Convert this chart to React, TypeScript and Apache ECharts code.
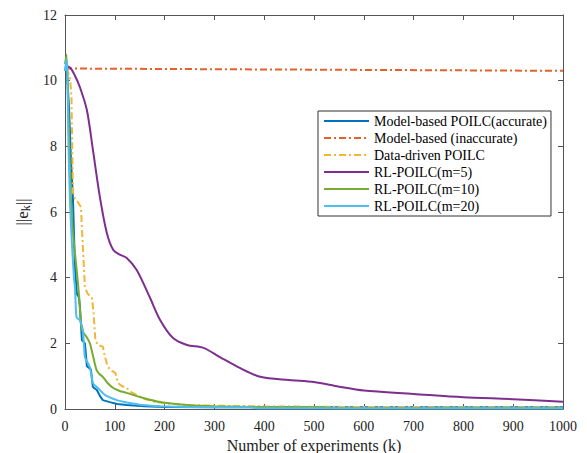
import React, { useEffect, useRef } from "react";
import * as echarts from "echarts";

const seriesNames = [
  "Model-based POILC(accurate)",
  "Model-based (inaccurate)",
  "Data-driven POILC",
  "RL-POILC(m=5)",
  "RL-POILC(m=10)",
  "RL-POILC(m=20)",
];

const xTicks = [0, 100, 200, 300, 400, 500, 600, 700, 800, 900, 1000];
const yTicks = [0, 2, 4, 6, 8, 10, 12];

const accurateK = [0, 3, 8, 12, 16, 20, 24, 28, 30, 34, 40, 44, 52, 56, 64, 70, 76, 90, 105, 124, 160, 200, 300, 500, 1000];
const accurateE = [10.3, 10.5, 9.2, 7.6, 6.4, 4.3, 3.5, 3.4, 3.1, 2.1, 2.0, 1.3, 1.2, 0.67, 0.58, 0.4, 0.27, 0.21, 0.15, 0.12, 0.08, 0.06, 0.05, 0.05, 0.05];

const inaccurateK = [0, 1000];
const inaccurateE = [10.37, 10.3];

const dataDrivenK = [0, 5, 10, 13, 16, 20, 26, 32, 35, 40, 46, 54, 57, 61, 66, 76, 80, 86, 95, 101, 106, 114, 124, 132, 144, 160, 180, 210, 250, 300, 400, 600, 1000];
const dataDrivenE = [10.35, 10.3, 10.1, 9.5, 6.6, 6.4, 6.3, 6.15, 5.2, 3.7, 3.5, 3.4, 3.0, 2.1, 1.95, 1.9, 1.6, 1.28, 1.15, 1.1, 0.8, 0.7, 0.64, 0.52, 0.43, 0.3, 0.22, 0.16, 0.12, 0.1, 0.08, 0.06, 0.05];

const rl5K = [0, 10, 20, 30, 44, 56, 70, 84, 97, 110, 124, 144, 170, 191, 217, 245, 278, 311, 351, 392, 450, 500, 550, 600, 700, 800, 900, 1000];
const rl5E = [10.45, 10.4, 10.15, 9.8, 9.1, 7.9, 6.46, 5.36, 4.84, 4.7, 4.6, 4.23, 3.41, 2.71, 2.16, 1.95, 1.86, 1.58, 1.25, 0.98, 0.88, 0.82, 0.68, 0.56, 0.46, 0.36, 0.3, 0.22];

const rl10K = [0, 3, 6, 10, 13, 17, 23, 28, 33, 38, 43, 50, 55, 63, 70, 76, 85, 97, 110, 124, 150, 191, 245, 300, 400, 520, 540, 1000];
const rl10E = [10.5, 10.8, 9.4, 7.2, 6.0, 5.2, 4.3, 3.5, 2.45, 2.3, 2.2, 2.0, 1.7, 1.2, 1.05, 0.98, 0.8, 0.64, 0.55, 0.49, 0.37, 0.21, 0.12, 0.08, 0.06, 0.05, 0.02, 0.02];

const rl20K = [0, 3, 5, 7, 10, 14, 18, 20, 23, 30, 36, 40, 50, 56, 66, 80, 104, 124, 157, 191, 250, 370, 390, 1000];
const rl20E = [10.3, 10.65, 10.2, 8.0, 6.3, 5.0, 4.0, 3.7, 2.8, 2.7, 2.4, 1.58, 1.28, 0.79, 0.64, 0.43, 0.27, 0.2, 0.12, 0.08, 0.06, 0.05, 0.02, 0.02];

const colors = ["#0072BD", "#E4622A", "#F2B637", "#7E2F8E", "#77AC30", "#4DBEEE"];

const pairs = (k: number[], v: number[]) => k.map((x, i) => [x, v[i]]);

const FONT = "'Liberation Serif', 'Times New Roman', serif";

export default function App() {
  const ref = useRef<HTMLDivElement>(null);
  useEffect(() => {
    if (!ref.current) return;
    const chart = echarts.init(ref.current, undefined, { renderer: "svg" });
    const axisColor = "#555";
    const data = [
      pairs(accurateK, accurateE),
      pairs(inaccurateK, inaccurateE),
      pairs(dataDrivenK, dataDrivenE),
      pairs(rl5K, rl5E),
      pairs(rl10K, rl10E),
      pairs(rl20K, rl20E),
    ];
    const lineTypes: any[] = ["solid", [7, 3, 2, 3], [7, 3, 2, 3], "solid", "solid", "solid"];
    const smooths: any[] = [false, false, false, 0.3, 0.2, 0.15];
    chart.setOption({
      animation: false,
      backgroundColor: "#fff",
      textStyle: { fontFamily: FONT },
      color: colors,
      grid: { left: 65, right: 24, top: 15, bottom: 44, show: false, containLabel: false, outerBoundsMode: "none" },
      legend: {
        orient: "vertical",
        left: 318,
        top: 111,
        padding: [3, 4, 3, 5],
        borderColor: "#333",
        borderWidth: 1,
        backgroundColor: "#fff",
        itemWidth: 45,
        itemHeight: 14,
        itemGap: 3,
        itemStyle: { opacity: 0 },
        textStyle: { fontFamily: FONT, fontSize: 14, color: "#000" },
        data: seriesNames,
      },
      xAxis: [
        {
          type: "value",
          min: 0,
          max: 1000,
          interval: 100,
          position: "bottom",
          name: "Number of experiments (k)",
          nameLocation: "middle",
          nameGap: 21,
          nameTextStyle: { fontFamily: FONT, fontSize: 16, color: "#222" },
          axisLine: { show: true, onZero: false, lineStyle: { color: axisColor, width: 1 } },
          axisTick: { show: true, inside: true, length: 5, lineStyle: { color: axisColor } },
          axisLabel: {
            fontFamily: FONT,
            fontSize: 14,
            color: "#222",
            margin: 10,
            formatter: (v: number) => (xTicks.includes(v) ? String(v) : ""),
          },
          splitLine: { show: false },
        },
        {
          type: "value",
          min: 0,
          max: 1000,
          interval: 100,
          position: "top",
          axisLine: { show: true, onZero: false, lineStyle: { color: axisColor, width: 1 } },
          axisTick: { show: true, inside: true, length: 5, lineStyle: { color: axisColor } },
          axisLabel: { show: false },
          splitLine: { show: false },
        },
      ],
      yAxis: [
        {
          type: "value",
          min: 0,
          max: 12,
          interval: 2,
          position: "left",
          name: "||e{sub|k}||",
          nameLocation: "middle",
          nameRotate: 90,
          nameGap: 29,
          nameTextStyle: {
            fontFamily: FONT,
            fontSize: 17,
            color: "#222",
            rich: {
              sub: { fontFamily: FONT, fontSize: 12, color: "#222", verticalAlign: "bottom", padding: [7, 0, 0, 0] },
            },
          },
          axisLine: { show: true, onZero: false, lineStyle: { color: axisColor, width: 1 } },
          axisTick: { show: true, inside: true, length: 5, lineStyle: { color: axisColor } },
          axisLabel: {
            fontFamily: FONT,
            fontSize: 14,
            color: "#222",
            margin: 8,
            formatter: (v: number) => (yTicks.includes(v) ? String(v) : ""),
          },
          splitLine: { show: false },
        },
        {
          type: "value",
          min: 0,
          max: 12,
          interval: 2,
          position: "right",
          axisLine: { show: true, onZero: false, lineStyle: { color: axisColor, width: 1 } },
          axisTick: { show: true, inside: true, length: 5, lineStyle: { color: axisColor } },
          axisLabel: { show: false },
          splitLine: { show: false },
        },
      ],
      series: seriesNames.map((name, i) => ({
        name,
        type: "line",
        xAxisIndex: 0,
        yAxisIndex: 0,
        data: data[i],
        showSymbol: false,
        symbol: "none",
        smooth: smooths[i],
        lineStyle: { width: 2, type: lineTypes[i], color: colors[i] },
        itemStyle: { color: colors[i] },
        z: 2 + i,
      })),
    });
    return () => chart.dispose();
  }, []);
  return (
    <div
      ref={ref}
      style={{ position: "fixed", left: 0, top: 0, width: 587, height: 453 }}
    />
  );
}
